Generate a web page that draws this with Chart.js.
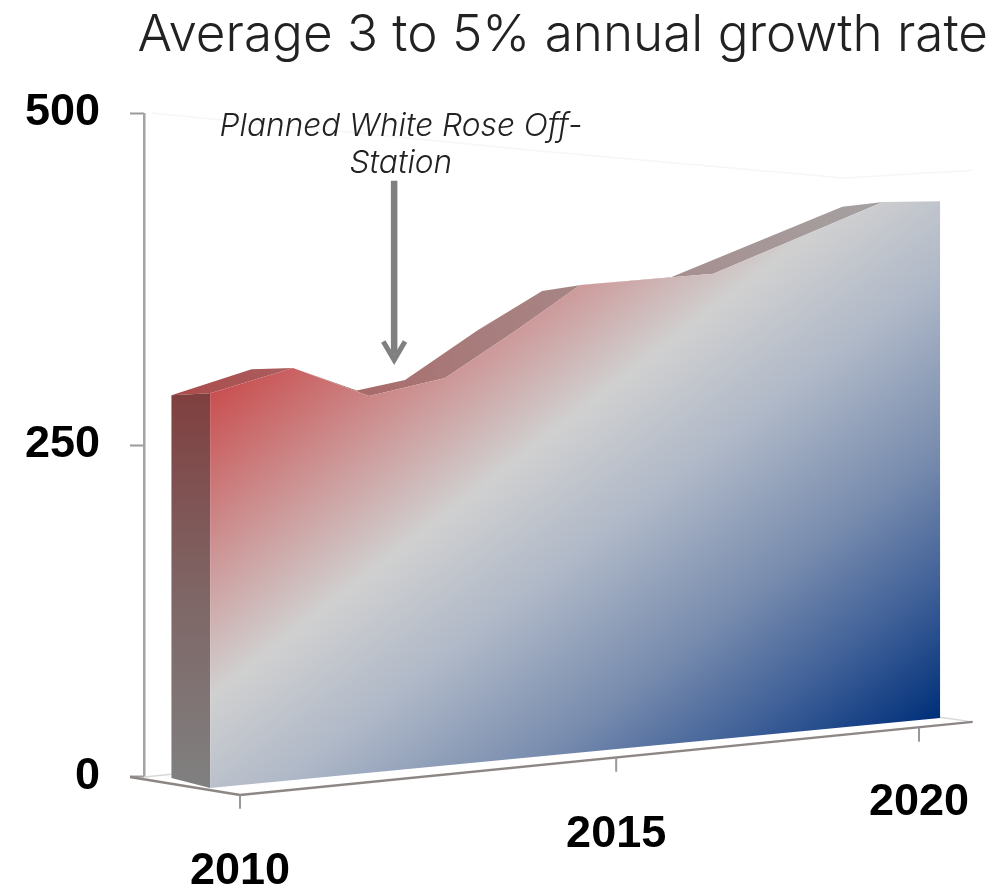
<!DOCTYPE html>
<html><head><meta charset="utf-8">
<style>html,body{margin:0;padding:0;background:#fff}#w{width:1008px;height:891px}</style>
<script src="https://cdn.jsdelivr.net/npm/chart.js@4/dist/chart.umd.min.js"></script>
</head><body><div id="w"><canvas id="c" width="1008" height="891"></canvas></div>
<script>
const titleText = 'Average 3 to 5% annual growth rate';
const calloutLines = ['Planned White Rose Off-', 'Station'];
const yTicks = [0, 250, 500];
const xTickLabels = ['2010', '2015', '2020'];
const xTickPositions = [2010, 2015.54, 2020];

const frontYears  = [2009.56, 2010.78, 2011.90, 2013.02, 2014.07, 2015.01, 2016.97, 2019.47, 2020.31];
const frontValues = [289, 308, 287, 300.5, 336.5, 370.5, 379, 433, 433.5];
const floorYears  = [2009.56, 2020.31];
const floorValues = [-8.3, 44.4];
const ridgeYears  = [2008.99, 2010.17, 2010.78, 2011.72, 2012.43, 2013.50, 2014.45, 2015.02, 2016.33, 2018.87, 2019.47];
const ridgeValues = [287.5, 307, 308, 291, 299, 336.5, 366, 370.5, 376, 429.5, 433];
const sideYears   = [2008.99, 2009.56, 2009.56, 2008.99];
const sideValues  = [287.5, 289, -8.3, -0.7];
const axisLineYears  = [2008.59, 2008.59];
const axisLineValues = [0, 500];
const floorLineYears  = [2008.38, 2010, 2020.79];
const floorLineValues = [0, -13.5, 41.5];
const farFloorYears  = [2008.59, 2008.99];
const farFloorValues = [0, 2];
const farRightYears  = [2020.31, 2020.79];
const farRightValues = [45, 41.5];
const tickMarkYears  = [2010, 2010, null, 2015.54, 2015.54, null, 2020, 2020];
const tickMarkValues = [-13.5, -24, null, 14.5, 4, null, 37, 26.5];
const backEdgeYears  = [2008.7, 2014.5, 2018.9, 2020.8];
const backEdgeValues = [500, 471, 451, 457];
const arrowShaftYears  = [2012.27, 2012.27];
const arrowShaftValues = [449, 318];
const arrowHeadYears  = [2012.11, 2012.27, 2012.43];
const arrowHeadValues = [328, 314, 328];

const pts = (xs, ys) => xs.map((x, i) => ({x, y: ys[i]}));
const ridgeShape = pts(ridgeYears, ridgeValues).concat(pts(frontYears, frontValues).reverse());
const frontShape = pts(frontYears, frontValues).concat(pts(floorYears, floorValues).reverse());
const sideShape = pts(sideYears, sideValues);

function grad(ctx, mk) {
  const a = ctx.chart.chartArea;
  if (!a) return '#999';
  return mk(ctx.chart.ctx, a);
}
const frontFill = c => grad(c, (g, a) => {
  const lg = g.createLinearGradient(a.left + 66, a.top + 280, a.left + 494, a.top + 835);
  lg.addColorStop(0, '#c94f50');
  lg.addColorStop(0.343, '#d0d0d0');
  lg.addColorStop(0.5, '#b0b9c8');
  lg.addColorStop(0.7, '#788cae');
  lg.addColorStop(0.85, '#3f6098');
  lg.addColorStop(1, '#00307a');
  return lg;
});
const ridgeFill = c => grad(c, (g, a) => {
  const lg = g.createLinearGradient(a.left + 28, 0, a.left + 740, 0);
  lg.addColorStop(0, '#ab4a4a');
  lg.addColorStop(0.4, '#a87a7a');
  lg.addColorStop(1, '#a5a2a2');
  return lg;
});
const sideFill = c => grad(c, (g, a) => {
  const lg = g.createLinearGradient(0, a.top + 280, 0, a.top + 675);
  lg.addColorStop(0, '#803f3f');
  lg.addColorStop(0.5, '#7f6565');
  lg.addColorStop(1, '#808080');
  return lg;
});

const lineSet = (xs, ys, color, width, extra) => Object.assign({
  data: pts(xs, ys), showLine: true, borderColor: color, borderWidth: width,
  pointRadius: 0, fill: false, clip: false, spanGaps: false
}, extra || {});
const shapeSet = (data, bg) => ({
  data, showLine: true, borderWidth: 0, borderColor: 'transparent',
  pointRadius: 0, fill: 'shape', backgroundColor: bg, clip: false
});

const calloutPlugin = {
  id: 'callout',
  afterDatasetsDraw(chart) {
    const g = chart.ctx, xs = chart.scales.x, ys = chart.scales.y;
    g.save();
    g.font = 'italic 300 31.7px Inter';
    g.fillStyle = '#222';
    g.textAlign = 'center';
    g.textBaseline = 'alphabetic';
    const cx = xs.getPixelForValue(2012.37);
    g.fillText(calloutLines[0], cx, ys.getPixelForValue(483));
    g.fillText(calloutLines[1], cx, ys.getPixelForValue(454.5));
    g.restore();
  }
};

new Chart(document.getElementById('c'), {
  type: 'scatter',
  data: { datasets: [
    lineSet(arrowHeadYears, arrowHeadValues, '#808080', 5),
    lineSet(arrowShaftYears, arrowShaftValues, '#808080', 6.5),
    shapeSet(frontShape, frontFill),
    shapeSet(sideShape, sideFill),
    shapeSet(ridgeShape, ridgeFill),
    lineSet(tickMarkYears, tickMarkValues, '#999999', 2),
    lineSet(floorLineYears, floorLineValues, '#8c8785', 2.5),
    lineSet(farFloorYears, farFloorValues, '#d8d8d8', 1.5),
    lineSet(farRightYears, farRightValues, '#d8d8d8', 1.5),
    lineSet(axisLineYears, axisLineValues, '#a3a3a3', 2.5),
    lineSet(backEdgeYears, backEdgeValues, '#f6f6f6', 1.5)
  ]},
  plugins: [calloutPlugin],
  options: {
    responsive: false, animation: false, devicePixelRatio: 1,
    layout: { padding: { left: 0, right: 20, top: 0, bottom: 0 } },
    plugins: {
      legend: { display: false }, tooltip: { enabled: false },
      title: {
        display: true, text: titleText, align: 'end', color: '#222',
        font: { family: 'Inter', size: 51.2, weight: 300, lineHeight: 1.2 },
        padding: { top: 5, bottom: 46.6 }
      }
    },
    scales: {
      x: {
        type: 'linear', min: 2008.586, max: 2021.016,
        afterBuildTicks(s) {
          s.ticks = xTickPositions.map(v => ({value: v}));
          s._computeLabelArea = () => null;
        },
        afterFit(s) { s.height = 101; },
        grid: { display: false }, border: { display: false },
        ticks: {
          autoSkip: false, maxRotation: 0, padding: -13,
          color: '#000',
          callback(v, i) {
            return i === 2 ? xTickLabels[i] : ['', xTickLabels[i]];
          },
          font(c) {
            const lh = ['58px', '33px', '36px'][c.index] || '36px';
            return { family: '"Liberation Sans"', size: 45, weight: 'bold', lineHeight: lh };
          }
        }
      },
      y: {
        type: 'linear', min: -9.8, max: 500,
        afterBuildTicks(s) { s.ticks = yTicks.map(v => ({value: v})); },
        afterFit(s) { s.width = 144; },
        border: { display: false },
        grid: { drawOnChartArea: false, tickLength: 14, tickColor: '#9a9a9a', tickWidth: 2 },
        ticks: {
          color: '#000', padding: 30,
          font: { family: '"Liberation Sans"', size: 45, weight: 'bold' },
          callback: v => String(v)
        }
      }
    }
  }
});
</script></body></html>
